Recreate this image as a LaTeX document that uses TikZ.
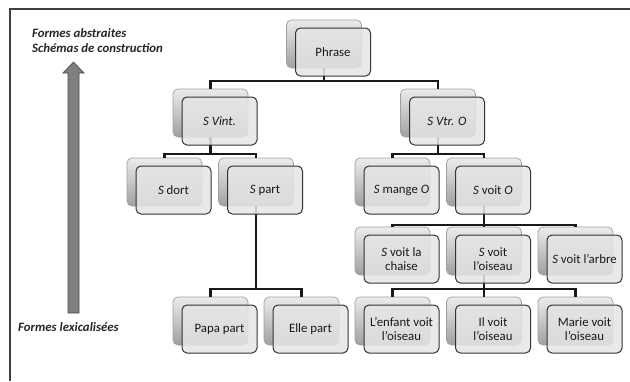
\documentclass[tikz,border=0pt]{standalone}
\usepackage{fontspec}
\setmainfont{Carlito}
\usetikzlibrary{positioning}
\pgfdeclarelayer{cardback}
\pgfdeclarelayer{links}
\pgfsetlayers{cardback,links,main}

\tikzset{
  card/.style={draw=black!80, line width=1pt, rounded corners=5pt, fill=gray!20,
    fill opacity=0.85, text opacity=1, minimum width=75pt, minimum height=48pt,
    inner sep=2pt, align=center, text=black!90, font=\fontsize{12.8}{13.5}\selectfont},
  cardback/.style={draw=gray!75, line width=0.7pt, rounded corners=5pt,
    top color=gray!15, bottom color=gray!75, minimum width=75pt, minimum height=48pt},
  link/.style={draw=black!90, line width=2.2pt},
  side/.style={anchor=west, inner sep=0pt, text=black!85,
    font=\fontsize{12.8}{14}\selectfont\bfseries\itshape}
}

\begin{document}
\begin{tikzpicture}[x=1pt, y=-1pt, on grid]
  \useasboundingbox (0,0) rectangle (630,381);

  % frame
  \draw[black!75, line width=1.4pt] (10,381) -- (10,9) -- (630,9);

  % left scale
  \node[side] (abstr) at (32,33) {Formes abstraites};
  \node[side] (schema) at (32,48) {Schémas de construction};
  \node[side] (lexic) at (18,327) {Formes lexicalisées};
  \draw[draw=black!70, fill=black!50, line width=0.7pt]
    (68,313) -- (68,73) -- (63,73) -- (73.5,62) -- (84,73) -- (79,73) -- (79,313) -- cycle;

  % tree
  \node[card] (phrase) at (333,52) {Phrase};

  \node[card, below left=69pt and 113.5pt of phrase] (svint) {\itshape S Vint.};
  \node[card, right=227.5pt of svint] (svtr) {\itshape S Vtr. O};

  \node[card, below left=69pt and 46pt of svint] (sdort) {\textit{S} dort};
  \node[card, right=91.5pt of sdort] (spart) {\textit{S} part};
  \node[card, below left=69pt and 45.5pt of svtr] (smange) {\textit{S} mange \textit{O}};
  \node[card, right=91.5pt of smange] (svoit) {\textit{S} voit \textit{O}};

  \node[card, below=69pt of smange] (chaise) {\textit{S} voit la\\chaise};
  \node[card, below=69pt of svoit] (oiseau) {\textit{S} voit\\l'oiseau};
  \node[card, right=91.5pt of oiseau] (arbre) {\textit{S} voit l'arbre};

  \node[card, below=70pt of chaise] (enfant) {L'enfant voit\\l'oiseau};
  \node[card, below=70pt of oiseau] (il) {Il voit\\l'oiseau};
  \node[card, below=70pt of arbre] (marie) {Marie voit\\l'oiseau};
  \node[card, below left=139pt and 45.5pt of spart] (papa) {Papa part};
  \node[card, right=91pt of papa] (elle) {Elle part};

  % shadow cards
  \begin{pgfonlayer}{cardback}
    \foreach \n in {phrase,svint,svtr,sdort,spart,smange,svoit,chaise,oiseau,arbre,enfant,il,marie,papa,elle}
      \node[cardback] (\n-b) at ([shift={(-9,-8)}]\n.center) {};
  \end{pgfonlayer}

  % links
  \begin{pgfonlayer}{links}
    \draw[link] (phrase-b.south) -- ++(0,13) -| (svint-b.north);
    \draw[link] (phrase-b.south) -- ++(0,13) -| (svtr-b.north);
    \draw[link] (svint-b.south) -- ++(0,17) -| (sdort-b.north);
    \draw[link] (svint-b.south) -- ++(0,17) -| (spart-b.north);
    \draw[link] (svtr-b.south) -- ++(0,17) -| (smange-b.north);
    \draw[link] (svtr-b.south) -- ++(0,17) -| (svoit-b.north);
    \draw[link] (svoit-b.south) -- ++(0,19) -| (chaise-b.north);
    \draw[link] (svoit-b.south) -- ++(0,19) -| (oiseau-b.north);
    \draw[link] (svoit-b.south) -- ++(0,19) -| (arbre-b.north);
    \draw[link] (oiseau-b.south) -- ++(0,14) -| (enfant-b.north);
    \draw[link] (oiseau-b.south) -- ++(0,14) -| (il-b.north);
    \draw[link] (oiseau-b.south) -- ++(0,14) -| (marie-b.north);
    \draw[link] (spart-b.south) -- ++(0,83) -| (papa-b.north);
    \draw[link] (spart-b.south) -- ++(0,83) -| (elle-b.north);
  \end{pgfonlayer}
\end{tikzpicture}
\end{document}
